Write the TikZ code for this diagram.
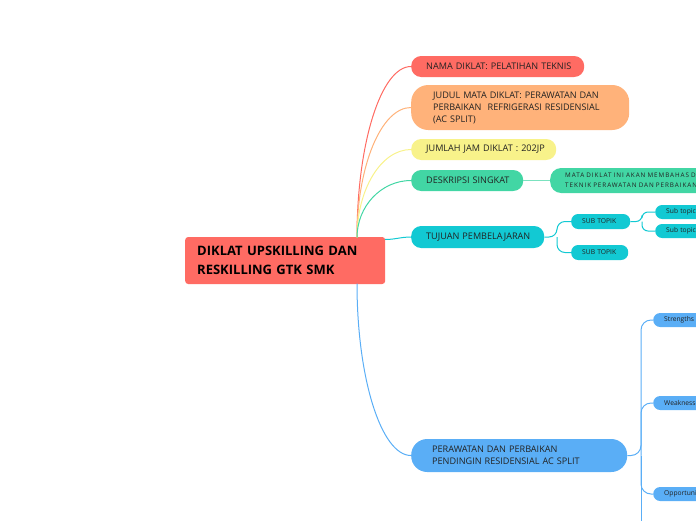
\documentclass[tikz,border=0pt]{standalone}
\usepackage{fontspec}
\setmainfont{Open Sans}
\usepackage{tikz}
\usetikzlibrary{positioning}
\usepackage{xcolor}
\definecolor{mmred}{HTML}{FF6B63}
\definecolor{mmorange}{HTML}{FFB27A}
\definecolor{mmyellow}{HTML}{F8F28A}
\definecolor{mmgreen}{HTML}{42D6A4}
\definecolor{mmcyan}{HTML}{12C9D3}
\definecolor{mmblue}{HTML}{5AAEF6}
\definecolor{mmtext}{HTML}{222222}

\begin{document}
\begin{tikzpicture}[
    x=1pt, y=-1pt,
    topic/.style={fill=#1, rounded corners=10pt, anchor=west, align=left, inner ysep=0pt, text=mmtext, font=\fontsize{9.1}{12}\selectfont},
    subtopic/.style={fill=#1, rounded corners=7pt, anchor=west, align=left, inner ysep=0pt, text=mmtext, font=\fontsize{6.7}{8}\selectfont},
    link/.style={draw=#1, line width=1pt},
]
\useasboundingbox (0,0) rectangle (696,520);
\clip (0,0) rectangle (696,520);

% Central topic
\node[fill=mmred, rounded corners=3pt, anchor=west, align=left, text width=176pt, inner xsep=12pt, minimum height=47pt, font=\fontsize{13}{19}\selectfont\bfseries] (root) at (185,260.5) {DIKLAT UPSKILLING DAN\\RESKILLING GTK SMK};

% Main topics
\node[topic=mmred, text width=143pt, inner xsep=15pt, minimum height=21pt] (nama) at (411,66.5) {\mbox{NAMA DIKLAT: PELATIHAN TEKNIS}};
\node[topic=mmorange, rounded corners=17pt, text width=174pt, inner xsep=22pt, minimum height=45pt] (judul) at (411,107.5) {\mbox{JUDUL MATA DIKLAT: PERAWATAN DAN}\\\mbox{PERBAIKAN\ \ REFRIGERASI RESIDENSIAL}\\(AC SPLIT)};
\node[topic=mmyellow, text width=115pt, inner xsep=15pt, minimum height=21pt] (jumlah) at (411,149.5) {\mbox{JUMLAH JAM DIKLAT : 202JP}};
\node[topic=mmgreen, text width=82pt, inner xsep=15pt, minimum height=21pt] (deskripsi) at (411,180.5) {\mbox{DESKRIPSI SINGKAT}};
\node[topic=mmcyan, text width=103pt, inner xsep=15pt, minimum height=22pt] (tujuan) at (411,237) {\mbox{TUJUAN PEMBELAJARAN}};
\node[topic=mmblue, rounded corners=16pt, text width=174pt, inner xsep=21pt, minimum height=33pt] (perawatan) at (411,455.5) {\mbox{PERAWATAN DAN PERBAIKAN}\\\mbox{PENDINGIN RESIDENSIAL AC SPLIT}};

% Subtopics
\node[subtopic=mmgreen, rounded corners=11pt, text width=200pt, inner xsep=15pt, minimum height=25pt, font=\fontsize{6.3}{10}\selectfont\addfontfeature{LetterSpace=15}] (desc) at (550,180.5) {MATA DIKLAT INI AKAN MEMBAHAS DAN\\TEKNIK PERAWATAN DAN PERBAIKAN AS};
\node[subtopic=mmcyan, text width=37pt, inner xsep=11pt, minimum height=15pt] (subA) at (571,221.5) {\mbox{SUB TOPIK}};
\node[subtopic=mmcyan, text width=35pt, inner xsep=11pt, minimum height=15pt] (subB) at (571,252.5) {\mbox{SUB TOPIK}};
\node[subtopic=mmcyan, text width=40pt, inner xsep=11pt, minimum height=14pt] (subtopA) at (655,212) {\mbox{Sub topic}};
\node[subtopic=mmcyan, text width=40pt, inner xsep=11pt, minimum height=14pt] (subtopB) at (655,231) {\mbox{Sub topic}};
\node[subtopic=mmblue, text width=40pt, inner xsep=11pt, minimum height=14pt] (strengths) at (653,320) {\mbox{Strengths}};
\node[subtopic=mmblue, text width=45pt, inner xsep=11pt, minimum height=14pt] (weak) at (653,403) {\mbox{Weaknesses}};
\node[subtopic=mmblue, text width=50pt, inner xsep=11pt, minimum height=14pt] (opp) at (653,494) {\mbox{Opportunities}};

% Branch connectors
\coordinate (rootup) at (357,237.5);
\coordinate (rootdown) at (357,283.5);
\coordinate (rootright) at (385,239.5);
\draw[link=mmred] (rootup) to[out=90, in=180, out distance=94pt, in distance=30pt] (nama.west);
\draw[link=mmorange] (rootup) to[out=90, in=180, out distance=71pt, in distance=30pt] (judul.west);
\draw[link=mmyellow] (rootup) to[out=90, in=180, out distance=48pt, in distance=30pt] (jumlah.west);
\draw[link=mmgreen] (rootup) to[out=90, in=180, out distance=31pt, in distance=30pt] (deskripsi.west);
\draw[link=mmcyan] (rootright) to[out=0, in=180] (tujuan.west);
\draw[link=mmblue] (rootdown) to[out=-90, in=180, out distance=94pt, in distance=30pt] (perawatan.west);

% Subtopic connectors
\draw[link=mmgreen!70] (deskripsi.east) -- (desc.west);

\coordinate (tujfork) at (557,237);
\draw[link=mmcyan, rounded corners=8pt] (tujuan.east) -- (tujfork) |- (subA.west);
\draw[link=mmcyan, rounded corners=8pt] (tujfork) |- (subB.west);

\coordinate (subfork) at (642,221.5);
\draw[link=mmcyan, rounded corners=6pt] (subA.east) -- (subfork) |- (subtopA.west);
\draw[link=mmcyan, rounded corners=6pt] (subfork) |- (subtopB.west);

\coordinate (bluefork) at (641,455.5);
\coordinate (blueend) at (641,540);
\draw[link=mmblue, rounded corners=10pt] (perawatan.east) -- (bluefork) |- (strengths.west);
\draw[link=mmblue, rounded corners=10pt] (bluefork) |- (weak.west);
\draw[link=mmblue, rounded corners=10pt] (bluefork) |- (opp.west);
\draw[link=mmblue] (bluefork) -- (blueend);

\end{tikzpicture}
\end{document}
